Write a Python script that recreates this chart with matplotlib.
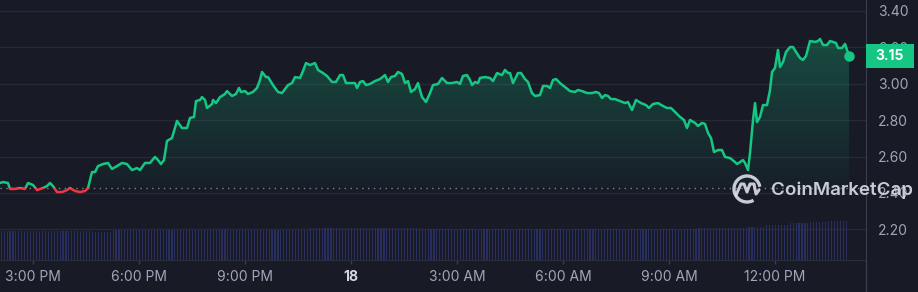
import numpy as np
import matplotlib
matplotlib.use("Agg")
import matplotlib.pyplot as plt
import matplotlib.transforms as mtransforms
from matplotlib.patches import Rectangle, Arc
from matplotlib.lines import Line2D
from matplotlib.colors import to_rgb

# ---------------- data ----------------
# time in hours since 00:00 on the 17th
times = [
    14.066, 14.151, 14.292, 14.349, 14.491, 14.632, 14.774, 14.859, 15.000, 15.113,
    15.283, 15.396, 15.481, 15.566, 15.679, 15.821, 15.962, 16.047, 16.189, 16.330,
    16.472, 16.557, 16.670, 16.755, 16.840, 16.981, 17.123, 17.236, 17.378, 17.519,
    17.661, 17.802, 17.944, 18.029, 18.170, 18.312, 18.453, 18.538, 18.623, 18.708,
    18.793, 18.934, 19.076, 19.218, 19.359, 19.444, 19.557, 19.614, 19.727, 19.784,
    19.869, 19.925, 20.067, 20.095, 20.180, 20.293, 20.435, 20.491, 20.633, 20.746,
    20.831, 20.887, 21.001, 21.086, 21.227, 21.340, 21.425, 21.482, 21.595, 21.652,
    21.793, 21.935, 22.048, 22.133, 22.218, 22.331, 22.416, 22.558, 22.642, 22.727,
    22.841, 22.982, 23.067, 23.209, 23.322, 23.463, 23.576, 23.690, 23.775, 23.860,
    24.001, 24.114, 24.171, 24.256, 24.341, 24.426, 24.539, 24.680, 24.822, 24.963,
    25.048, 25.133, 25.246, 25.331, 25.445, 25.530, 25.614, 25.699, 25.813, 25.897,
    26.011, 26.124, 26.237, 26.322, 26.464, 26.577, 26.719, 26.860, 27.001, 27.086,
    27.171, 27.284, 27.369, 27.426, 27.511, 27.596, 27.652, 27.794, 27.935, 28.020,
    28.134, 28.275, 28.360, 28.445, 28.502, 28.587, 28.728, 28.813, 28.926, 29.011,
    29.124, 29.209, 29.351, 29.436, 29.549, 29.634, 29.719, 29.804, 29.917, 30.058,
    30.200, 30.341, 30.426, 30.540, 30.681, 30.823, 30.936, 31.021, 31.106, 31.191,
    31.275, 31.360, 31.474, 31.615, 31.757, 31.841, 31.955, 32.068, 32.209, 32.351,
    32.436, 32.549, 32.691, 32.832, 32.945, 33.059, 33.200, 33.313, 33.427, 33.511,
    33.596, 33.738, 33.823, 33.936, 34.021, 34.106, 34.191, 34.276, 34.389, 34.502,
    34.587, 34.729, 34.870, 34.927, 35.012, 35.097, 35.153, 35.238, 35.295, 35.380,
    35.437, 35.493, 35.578, 35.663, 35.776, 35.861, 35.918, 36.002, 36.087, 36.144,
    36.229, 36.314, 36.427, 36.512, 36.597, 36.710, 36.795, 36.880, 36.993, 37.135,
    37.219, 37.276, 37.361, 37.474, 37.559, 37.644, 37.729, 37.786, 37.899, 37.984,
    38.097,
]
prices = [
    2.455, 2.460, 2.455, 2.422, 2.422, 2.427, 2.422, 2.455, 2.444, 2.416,
    2.427, 2.438, 2.455, 2.438, 2.405, 2.405, 2.416, 2.427, 2.411, 2.405,
    2.411, 2.427, 2.515, 2.515, 2.548, 2.559, 2.565, 2.532, 2.548, 2.565,
    2.559, 2.526, 2.537, 2.526, 2.565, 2.565, 2.598, 2.581, 2.559, 2.581,
    2.686, 2.702, 2.796, 2.757, 2.757, 2.812, 2.818, 2.905, 2.911, 2.927,
    2.911, 2.867, 2.889, 2.911, 2.894, 2.927, 2.944, 2.960, 2.933, 2.944,
    2.977, 2.955, 2.960, 2.944, 2.955, 2.977, 3.021, 3.065, 3.037, 3.037,
    2.993, 2.955, 2.949, 2.971, 2.993, 3.004, 3.037, 3.032, 3.070, 3.114,
    3.103, 3.114, 3.076, 3.059, 3.043, 3.010, 3.010, 3.048, 3.048, 3.004,
    3.004, 3.004, 2.977, 3.010, 3.015, 2.993, 2.999, 3.015, 3.026, 3.048,
    3.010, 3.037, 3.043, 3.065, 3.054, 3.004, 3.015, 2.955, 2.971, 3.004,
    2.927, 2.900, 2.949, 2.993, 2.999, 3.032, 3.004, 3.004, 3.010, 2.999,
    3.043, 3.048, 3.021, 2.993, 3.010, 3.004, 3.032, 3.037, 3.032, 3.015,
    3.059, 3.048, 3.076, 3.059, 3.059, 3.004, 3.059, 3.059, 3.026, 3.010,
    2.949, 2.933, 2.938, 2.988, 2.988, 2.977, 3.021, 3.026, 3.004, 2.982,
    2.960, 2.955, 2.966, 2.960, 2.949, 2.949, 2.955, 2.949, 2.922, 2.938,
    2.933, 2.916, 2.916, 2.905, 2.894, 2.900, 2.856, 2.911, 2.894, 2.883,
    2.867, 2.889, 2.894, 2.878, 2.867, 2.867, 2.840, 2.818, 2.801, 2.757,
    2.801, 2.785, 2.768, 2.785, 2.779, 2.730, 2.702, 2.625, 2.636, 2.636,
    2.598, 2.592, 2.570, 2.559, 2.570, 2.581, 2.565, 2.526, 2.620, 2.801,
    2.894, 2.790, 2.818, 2.883, 2.883, 2.966, 3.065, 3.087, 3.186, 3.092,
    3.120, 3.175, 3.202, 3.202, 3.175, 3.142, 3.131, 3.153, 3.235, 3.230,
    3.235, 3.246, 3.213, 3.213, 3.235, 3.230, 3.224, 3.197, 3.197, 3.219,
    3.153,
]
open_price = 2.429

# 5-minute volume bars (relative units), starting 14:06
vol_start = 14.1
volumes = [
    290, 291, 290, 289, 290, 290, 291, 290, 289, 290, 290, 291, 290, 290, 289, 290, 291, 290, 290, 289, 290, 290, 291, 290,
    290, 289, 290, 291, 290, 290, 289, 281, 280, 279, 280, 281, 280, 280, 299, 300, 301, 300, 300, 299, 300, 301, 300, 300,
    300, 301, 300, 299, 300, 300, 301, 300, 300, 299, 300, 300, 301, 300, 299, 300, 300, 301, 300, 300, 299, 300, 301, 300,
    300, 299, 300, 301, 300, 300, 299, 300, 301, 300, 300, 299, 300, 300, 301, 300, 299, 300, 300, 301, 300, 300, 299, 300,
    300, 301, 300, 299, 300, 300, 301, 300, 300, 318, 319, 320, 321, 320, 319, 320, 321, 320, 319, 320, 320, 321, 320, 319,
    320, 321, 320, 319, 320, 320, 321, 320, 319, 320, 321, 320, 320, 319, 320, 321, 320, 320, 319, 320, 321, 320, 311, 310,
    310, 311, 310, 309, 310, 310, 311, 310, 309, 310, 310, 311, 310, 310, 309, 310, 311, 310, 310, 309, 310, 310, 311, 310,
    310, 309, 310, 311, 310, 310, 309, 310, 311, 310, 310, 309, 310, 310, 311, 310, 309, 310, 310, 311, 310, 310, 309, 310,
    310, 311, 310, 309, 310, 310, 311, 310, 310, 309, 310, 311, 310, 310, 309, 310, 311, 310, 310, 309, 310, 310, 311, 310,
    310, 309, 310, 311, 310, 310, 309, 310, 311, 310, 310, 309, 310, 310, 311, 310, 309, 310, 310, 311, 310, 320, 321, 320,
    320, 319, 320, 321, 320, 320, 319, 320, 321, 320, 320, 319, 320, 321, 330, 331, 330, 329, 330, 331, 348, 349, 350, 351,
    350, 351, 350, 352, 368, 369, 370, 371, 370, 371, 372, 378, 379, 380, 381, 380, 382, 388, 389, 390, 391, 390, 390, 391,
]

y_ticks = [2.20, 2.40, 2.60, 2.80, 3.00, 3.20, 3.40]
x_ticks = [15, 18, 21, 24, 27, 30, 33, 36]
x_labels = ["3:00 PM", "6:00 PM", "9:00 PM", "18", "3:00 AM", "6:00 AM", "9:00 AM", "12:00 PM"]
last_label = "3.15"

# ---------------- style ----------------
BG = "#181b26"
GREEN = "#16c784"
RED = "#ea3943"
GRID = "#262a36"
AXLINE = "#3a3e4c"
TEXT = "#a0a6b8"
VOL = "#282f60"

plt.rcParams['font.family'] = ['Inter', 'DejaVu Sans']

W, H = 918, 292
fig = plt.figure(figsize=(W / 100, H / 100), dpi=100, facecolor=BG)
ax = fig.add_axes([0, 32 / H, 866 / W, 260 / H])
ax.set_facecolor(BG)

t = np.array(times)
p = np.array(prices)
XMIN, XMAX = 14.066, 38.578
YMIN, YMAX = 2.0318, 3.4604

# volume bars on a twin axis
ax2 = ax.twinx()
vt = vol_start + np.arange(len(volumes)) / 12.0
ax2.bar(vt, volumes, width=0.032, color=VOL, linewidth=0, zorder=1)
ax2.set_ylim(0, 2600)
ax2.axis('off')

# gradient fill above the opening price
top = np.maximum(p, open_price)
poly = ax.fill_between(t, open_price, top, facecolor='none', edgecolor='none')
grad = np.zeros((256, 1, 4))
grad[..., :3] = to_rgb(GREEN)
grad[:, 0, 3] = np.linspace(0.30, 0.02, 256)
im = ax.imshow(grad, extent=[t[0], t[-1], open_price, 3.30], aspect='auto',
               origin='upper', interpolation='bilinear', zorder=1)
im.set_clip_path(poly.get_paths()[0], transform=ax.transData)

# baseline
ax.axhline(open_price, color="#7c8294", lw=1.0, ls=(0, (1, 3.2)), zorder=2)

# price line: green above open, red below
l_up, = ax.plot(t, p, color=GREEN, lw=1.8, zorder=4, solid_joinstyle='round')
l_dn, = ax.plot(t, p, color=RED, lw=1.8, zorder=4, solid_joinstyle='round')
l_up.set_clip_path(Rectangle((0, open_price), 100, 10, transform=ax.transData))
l_dn.set_clip_path(Rectangle((0, open_price - 10), 100, 10, transform=ax.transData))
ax.plot(t[-1], p[-1], 'o', ms=6.5, color=GREEN, zorder=5)

ax.set_xlim(XMIN, XMAX)
ax.set_ylim(YMIN, YMAX)

# axes / grid
ax.set_yticks(y_ticks)
ax.set_yticklabels([f"{v:.2f}" for v in y_ticks])
ax.yaxis.tick_right()
ax.grid(axis='y', color=GRID, lw=1.0, zorder=0)
ax.set_axisbelow(True)
ax.set_xticks(x_ticks)
ax.set_xticklabels(x_labels)
for s in ['top', 'left']:
    ax.spines[s].set_visible(False)
ax.spines['bottom'].set_color("#2a2e3a")
ax.spines['right'].set_color(AXLINE)
ax.tick_params(axis='y', length=0, pad=8.6, labelsize=10, labelcolor=TEXT)
ax.tick_params(axis='x', length=3, width=1, color=AXLINE, pad=4.5, labelsize=10, labelcolor=TEXT)
lab18 = ax.get_xticklabels()[3]
lab18.set_fontweight('bold')
lab18.set_color('#d4d7e0')

# right axis line continues to bottom of figure
fig.add_artist(Line2D([866 / W, 866 / W], [0, 32 / H], transform=fig.transFigure,
                      color=AXLINE, lw=1.0))

# last price badge
blend = mtransforms.blended_transform_factory(ax.transAxes, ax.transData)
ax.add_patch(Rectangle((1.0, p[-1] - 0.066), 48 / 866, 0.132, transform=blend,
                       facecolor=GREEN, edgecolor='none', clip_on=False, zorder=6))
ax.text(1.0 + 24 / 866, p[-1], last_label, transform=blend, ha='center', va='center',
        color='white', fontsize=10, fontweight='bold', zorder=7, clip_on=False)

# watermark overlay
ov = fig.add_axes([0, 0, 1, 1], zorder=10)
ov.set_xlim(0, W)
ov.set_ylim(H, 0)
ov.axis('off')
ov.patch.set_alpha(0)
WM = '#dcdfe6'
ov.add_patch(Arc((747, 189), 26, 26, theta1=-300, theta2=-10, color=WM, lw=2.4, alpha=0.9))
ov.plot([736, 741, 744, 747, 750, 754, 756, 759],
        [195, 184, 184, 192, 184, 184, 194, 190], color=WM, lw=2.2, alpha=0.9,
        solid_joinstyle='round', solid_capstyle='round')
ov.text(771, 190, "CoinMarketCap", color=WM, alpha=0.9, fontsize=13.5,
        fontweight='semibold', ha='left', va='center')

fig.savefig("out.png", dpi=100, facecolor=BG)
